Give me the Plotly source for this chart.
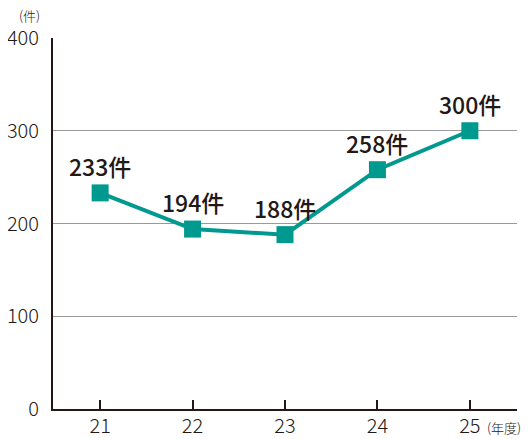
import plotly.graph_objects as go

years = [21, 22, 23, 24, 25]
counts = [233, 194, 188, 258, 300]
labels = [f"{v}件" for v in counts]
y_ticks = [0, 100, 200, 300, 400]

TEAL = "#00998f"
DARK = "#231815"
FONT = "Noto Sans CJK JP"

fig = go.Figure()
fig.add_trace(go.Scatter(
    x=years, y=counts, mode="lines+markers",
    line=dict(color=TEAL, width=4),
    marker=dict(symbol="square", size=17, color=TEAL),
    cliponaxis=False, hoverinfo="skip",
))

for x, y, t in zip(years, counts, labels):
    fig.add_annotation(x=x, y=y, text=t, showarrow=False, yanchor="bottom",
                       yshift=8, font=dict(family=FONT, size=23, color=DARK, weight=500))

fig.add_annotation(xref="paper", yref="paper", x=-0.05, y=1.0, yshift=12, text="(件)",
                   showarrow=False, xanchor="center", yanchor="bottom", borderpad=0,
                   font=dict(family=FONT, size=13, color=DARK, weight=300))
fig.add_annotation(xref="paper", yref="paper", x=0.93, y=0, yshift=-18, text="(年度)",
                   showarrow=False, xanchor="left", yanchor="middle",
                   font=dict(family=FONT, size=13, color=DARK, weight=300))

fig.update_layout(
    width=521, height=431,
    margin=dict(l=45, r=12, t=30, b=30),
    paper_bgcolor="white", plot_bgcolor="white",
    showlegend=False,
    font=dict(family=FONT, color=DARK),
    xaxis=dict(range=[20.49, 25.51], tickvals=years, ticktext=[str(v) for v in years],
               showgrid=False, zeroline=False, showline=True, linecolor=DARK, linewidth=2,
               ticks="inside", ticklen=9, tickwidth=1.5, tickcolor=DARK, automargin=False,
               tickfont=dict(family=FONT, size=20, color=DARK, weight=300), ticklabelstandoff=-2),
    yaxis=dict(range=[0, 400], tickvals=y_ticks, showgrid=True, gridcolor="#9a9a9a", gridwidth=1,
               zeroline=False, showline=True, linecolor=DARK, linewidth=2, ticks="", automargin=False,
               tickfont=dict(family=FONT, size=20, color=DARK, weight=300), ticklabelstandoff=8),
)

fig.write_html("out.html")
